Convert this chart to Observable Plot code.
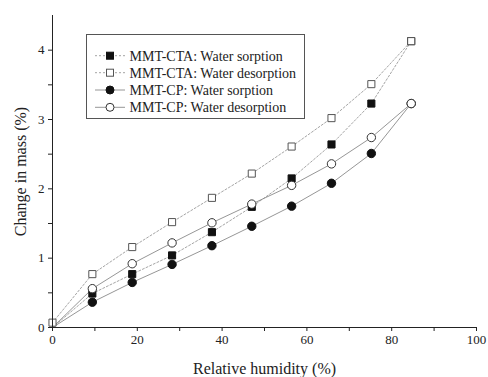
<!DOCTYPE html>
<html><head><meta charset="utf-8">
<script src="https://cdn.jsdelivr.net/npm/d3@7"></script>
<script src="https://cdn.jsdelivr.net/npm/@observablehq/plot@0.6"></script>
<style>
body{margin:0;background:#fff}
#chart{position:relative;width:488px;height:377px}
#chart svg text{font-family:"Liberation Serif","Times New Roman",serif !important}
</style>
</head><body><div id="chart"></div>
<script>
const humidity = [0, 9.4, 18.8, 28.2, 37.6, 47.0, 56.4, 65.8, 75.2, 84.6];
const ctaSorption = [0, 0.49, 0.77, 1.04, 1.375, 1.74, 2.15, 2.64, 3.23, 4.13];
const ctaDesorption = [0.07, 0.77, 1.16, 1.52, 1.87, 2.22, 2.61, 3.02, 3.51, 4.13];
const cpSorption = [0, 0.365, 0.65, 0.91, 1.18, 1.46, 1.75, 2.08, 2.51, 3.23];
const cpDesorption = [0, 0.56, 0.92, 1.22, 1.51, 1.78, 2.05, 2.36, 2.74, 3.23];
const seriesNames = ["MMT-CTA: Water sorption", "MMT-CTA: Water desorption", "MMT-CP: Water sorption", "MMT-CP: Water desorption"];
const xTicks = [0, 10, 20, 30, 40, 50, 60, 70, 80, 90, 100];
const yTicks = [0, 0.5, 1, 1.5, 2, 2.5, 3, 3.5, 4];

const styles = [
  {symbol: "square", fill: "#111", stroke: "#111", dash: "2,2", line: "#9a9a9a"},
  {symbol: "square", fill: "white", stroke: "#555", dash: "2,2", line: "#9a9a9a"},
  {symbol: "circle", fill: "#111", stroke: "#111", dash: null, line: "#8a8a8a"},
  {symbol: "circle", fill: "white", stroke: "#333", dash: null, line: "#8a8a8a"}
];
const allSeries = [ctaSorption, ctaDesorption, cpSorption, cpDesorption];
const data = allSeries.map((vals, s) => humidity.map((x, i) => ({x, y: vals[i], s, i})));

const marks = [];
data.forEach((d, s) => {
  const st = styles[s];
  marks.push(Plot.line(d, {x: "x", y: "y", stroke: st.line, strokeWidth: 0.9, strokeDasharray: st.dash}));
});
data.forEach((d, s) => {
  const st = styles[s];
  const pts = d.filter(p => p.i > 0 || p.y > 0);
  marks.push(Plot.dot(pts, {x: "x", y: "y", symbol: st.symbol, r: st.symbol === "square" ? 4 : 4.2, fill: st.fill, stroke: st.stroke, strokeWidth: 1}));
});

const plot = Plot.plot({
  width: 488, height: 377,
  marginLeft: 52, marginRight: 12, marginTop: 15, marginBottom: 50,
  style: {fontFamily: "'Liberation Serif', serif", fontSize: "13px", color: "#222", background: "white"},
  x: {domain: [0, 100]},
  y: {domain: [0, 4.5]},
  marks: [
    ...marks,
    Plot.ruleX([0], {stroke: "#222", strokeWidth: 1}),
    Plot.ruleY([0], {stroke: "#222", strokeWidth: 1}),
    Plot.axisX({ticks: xTicks, tickSize: 4, tickPadding: 3, tickFormat: d => d % 20 === 0 ? d : "", label: null, fontSize: 13}),
    Plot.axisY({ticks: yTicks, tickSize: 4, tickPadding: 4, tickFormat: d => Number.isInteger(d) ? d : "", label: null, fontSize: 13}),
    Plot.axisX({ticks: [], label: "Relative humidity (%)", labelAnchor: "center", labelArrow: "none", labelOffset: 46, fontSize: 16}),
    Plot.axisY({ticks: [], label: "Change in mass (%)", labelAnchor: "center", labelArrow: "none", labelOffset: 38, fontSize: 16})
  ]
});
document.getElementById("chart").appendChild(plot);

// legend
const svg = d3.select(plot);
const lg = svg.append("g").attr("font-size", 14).attr("text-anchor", "start");
lg.append("rect").attr("x", 86.5).attr("y", 34.5).attr("width", 218).attr("height", 84)
  .attr("fill", "white").attr("stroke", "#555").attr("stroke-width", 1);
const rowsY = [55.7, 72.7, 90, 107.3];
seriesNames.forEach((name, s) => {
  const st = styles[s];
  const y = rowsY[s];
  lg.append("line").attr("x1", 95).attr("x2", 125).attr("y1", y).attr("y2", y)
    .attr("stroke", st.line).attr("stroke-width", 0.9).attr("stroke-dasharray", st.dash);
  if (st.symbol === "square") {
    lg.append("rect").attr("x", 106.5).attr("y", y - 3.5).attr("width", 7).attr("height", 7)
      .attr("fill", st.fill).attr("stroke", st.stroke);
  } else {
    lg.append("circle").attr("cx", 110).attr("cy", y).attr("r", 4)
      .attr("fill", st.fill).attr("stroke", st.stroke);
  }
  lg.append("text").attr("x", 129.5).attr("y", y).attr("dy", "0.35em").attr("text-anchor", "start")
    .attr("fill", "#222").text(name);
});
</script></body></html>
